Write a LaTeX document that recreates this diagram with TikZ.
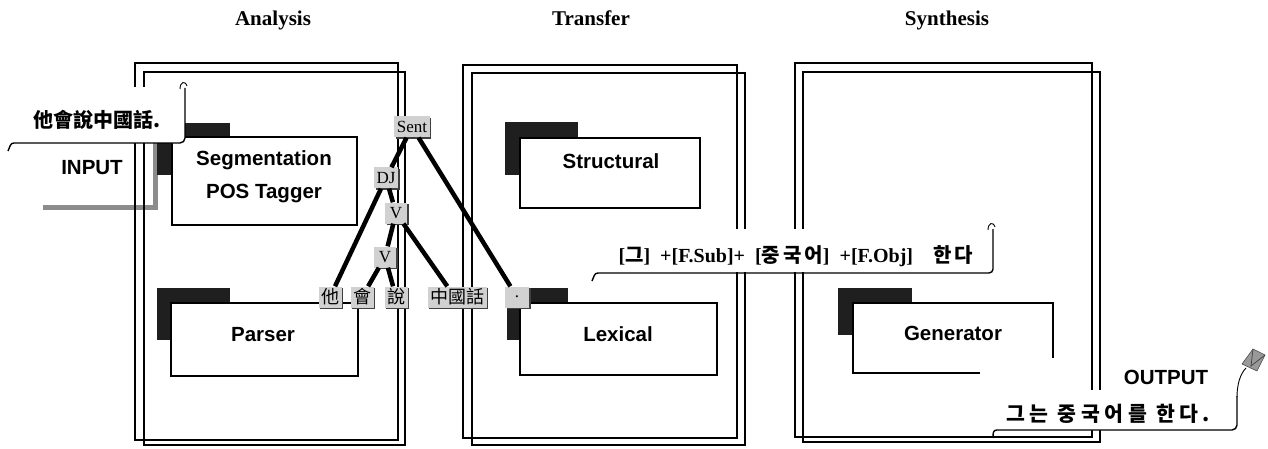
\documentclass[tikz,border=0pt]{standalone}
\usepackage{fontspec}
\setmainfont{Liberation Serif}
\setsansfont{Liberation Sans}
\newfontfamily\tcfont{Noto Sans CJK TC}
\newfontfamily\krfont{Noto Sans CJK KR}[LetterSpace=15]
\newfontfamily\krwide{Noto Sans CJK KR}[LetterSpace=22]
\newcommand\hangul[1]{{\krfont\bfseries\fontsize{20}{24}\selectfont #1}}
\usetikzlibrary{calc,shadows}

\begin{document}
\begin{tikzpicture}[x=1pt,y=-1pt,
  panel/.style={line width=1.4pt},
  tab/.style={fill=black!88},
  modbox/.style={draw, line width=1.4pt, fill=white, inner sep=0pt},
  modlabel/.style={font=\sffamily\bfseries\fontsize{20.5}{33}\selectfont, align=center},
  title/.style={font=\bfseries\fontsize{21}{24}\selectfont, anchor=base},
  tnode/.style={fill=black!18, minimum height=21pt, inner xsep=2.5pt, inner ysep=0pt,
    drop shadow={shadow xshift=1.6pt, shadow yshift=-1.6pt, fill=black!75, opacity=1},
    font=\fontsize{17}{20}\selectfont},
  cjkleaf/.style={tnode, font=\tcfont\fontsize{18}{20}\selectfont},
  branch/.style={line width=4.5pt},
  callout/.style={line width=1.4pt},
  curl/.style={line width=0.9pt},
  stripe/.style={draw=black!45, line width=5pt}
]
\useasboundingbox (0,0) rectangle (1268,449);

% stage titles
\node[title] (tAna) at (273,26) {Analysis};
\node[title] (tTra) at (591,26) {Transfer};
\node[title] (tSyn) at (947,26) {Synthesis};

% input feed stripe
\draw[stripe] (43,207) -- (155,207) -- (155,140);

% stage panels, each a pair of offset frames
\draw[panel] (135,63) rectangle (398,440);
\draw[panel] (144,72) rectangle (405,445);
\draw[panel] (463,65) rectangle (737,438);
\draw[panel] (472,73) rectangle (745,445);
\draw[panel] (795,63) rectangle (1092,437);
\draw[panel] (803,72) rectangle (1100,442);

% modules: dark tab behind the top-left corner, white box in front
\fill[tab] (157,123) rectangle (230,175);
\node[modbox, minimum width=185pt, minimum height=88pt] (seg) at (264.5,181) {};
\node[modlabel] (segT) at (264,177) {Segmentation\\POS Tagger};

\fill[tab] (157,288) rectangle (230,340);
\node[modbox, minimum width=187pt, minimum height=73pt] (par) at (264.5,339.5) {};
\node[modlabel] (parT) at (263,335) {Parser};

\fill[tab] (505,122) rectangle (578,175);
\node[modbox, minimum width=180pt, minimum height=70pt] (str) at (610,173) {};
\node[modlabel] (strT) at (611,161) {Structural};

\fill[tab] (507,288) rectangle (568,340);
\node[modbox, minimum width=197pt, minimum height=72pt] (lex) at (618.5,339) {};
\node[modlabel] (lexT) at (618,334) {Lexical};

\fill[tab] (838,288) rectangle (912,335);
\node[modbox, minimum width=200pt, minimum height=70pt] (gen) at (953,338) {};
\node[modlabel] (genT) at (953,333) {Generator};

% parse tree
\node[tnode] (sent) at (412,127) {Sent};
\node[tnode, minimum width=22pt] (dj) at (386,178) {DJ};
\node[tnode, minimum width=22pt] (vA) at (396,213) {V};
\node[tnode, minimum width=22pt] (vB) at (385,257) {V};
\node[cjkleaf] (l1) at (330,297) {他};
\node[cjkleaf] (l2) at (362,297) {會};
\node[cjkleaf] (l3) at (396,297) {說};
\node[cjkleaf] (l4) at (457,297) {中國話};
\node[tnode, minimum width=24pt] (l5) at (517,297) {.};

\draw[branch] (sent) -- (dj);
\draw[branch] (dj) -- (l1);
\draw[branch] (dj) -- (vA);
\draw[branch] (vA) -- (vB);
\draw[branch] (vA) -- ($(l4.north west)+(20,0)$);
\draw[branch] (vB) -- (l2);
\draw[branch] (vB) -- (l3);
\draw[branch] (sent) -- (l5);

% input callout
\fill[white] (0,87) rectangle (185,143);
\draw[callout, rounded corners=5pt] (185,88) -- (185,143) -- (14,143);
\draw[callout] (14,143) .. controls (10,143) and (10,147) .. (8,151);
\draw[curl] (180,89) .. controls (180,82) and (185,80) .. (187,86);
\node[font=\tcfont\bfseries\fontsize{20}{22}\selectfont] (inTxt) at (97,120) {他會說中國話.};
\node[font=\sffamily\bfseries\fontsize{20.5}{24}\selectfont] (inLbl) at (92,168) {INPUT};

% transfer callout
\fill[white] (593,229) rectangle (993,272);
\draw[callout, rounded corners=4pt] (993,229) -- (993,273) -- (598,273);
\draw[callout] (598,273) .. controls (594,273) and (594,277) .. (592,281);
\draw[curl] (988,230) .. controls (988,223) and (993,221) .. (995,227);
\node[font=\bfseries\fontsize{20}{24}\selectfont, anchor=west] (trTxt) at (615,256)
  {[\hangul{그}]\hspace{10pt}+[F.Sub]+\hspace{10pt}[\hangul{중국어}]\hspace{10pt}+[F.Obj]\hspace{20pt}\hangul{한다}};

% output callout
\fill[white] (980,358) -- (1062,358) -- (1062,390) -- (1237,390)
  -- (1237,430) -- (980,430) -- cycle;
\draw[callout, rounded corners=5pt] (1237,396) -- (1237,430) -- (997,430);
\draw[callout] (997,430) .. controls (993,430) and (993,433) .. (993,438);
\draw[curl] (1237,397) .. controls (1237,385) and (1240,374) .. (1246,368);
\filldraw[fill=black!40, draw=black!70, line width=0.6pt]
  (1242,364) -- (1253,349) -- (1265,355) -- (1257,371) -- cycle;
\draw[black!75, line width=0.7pt] (1253,349) -- (1251,366) -- (1265,355);
\node[font=\sffamily\bfseries\fontsize{20.5}{24}\selectfont] (outLbl) at (1166,377) {OUTPUT};
\node[font=\krwide\bfseries\fontsize{20.5}{24}\selectfont, anchor=west] (outTxt) at (1003,414) {그는 중국어를 한다.};
\end{tikzpicture}
\end{document}
